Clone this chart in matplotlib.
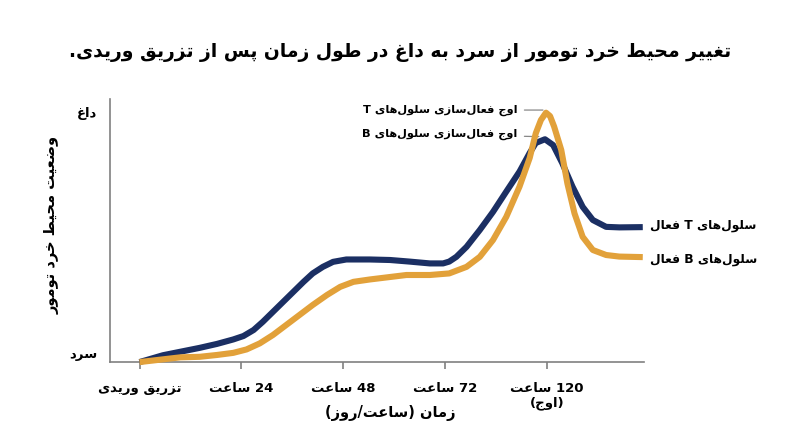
import matplotlib
matplotlib.use("Agg")
import matplotlib.pyplot as plt

# نمودار تغییر محیط خرد تومور - داده‌ها از روی تصویر خوانده شده
title = "تغییر محیط خرد تومور از سرد به داغ در طول زمان پس از تزریق وریدی."
x_label = "زمان (ساعت/روز)"
y_label = "وضعیت محیط خرد تومور"
x_ticks = [0, 1, 2, 3, 4]
x_tick_labels = ["تزریق وریدی", "24 ساعت", "48 ساعت", "72 ساعت", "120 ساعت\n(اوج)"]
y_ticks = [3.4, 95]
y_tick_labels = ["سرد", "داغ"]

# سلول‌های T فعال (آبی)
t_x = [0.0, 0.23, 0.59, 0.76, 0.92, 1.02, 1.12, 1.21, 1.31, 1.41, 1.51, 1.61, 1.70, 1.80,
       1.90, 2.03, 2.26, 2.46, 2.65, 2.85, 2.98, 3.04, 3.11, 3.21, 3.34, 3.47, 3.60, 3.73,
       3.83, 3.89, 3.98, 4.06, 4.15, 4.25, 4.35, 4.45, 4.58, 4.71, 4.94]
t_y = [0.0, 2.6, 5.4, 6.9, 8.6, 9.9, 12.2, 15.3, 19.1, 22.9, 26.7, 30.5, 33.7, 36.2,
       38.1, 39.0, 39.0, 38.8, 38.2, 37.5, 37.5, 38.2, 40.0, 43.8, 50.2, 57.1, 64.8, 72.4,
       79.5, 83.3, 84.7, 82.5, 75.6, 66.7, 59.0, 54.0, 51.4, 51.2, 51.3]

# سلول‌های B فعال (نارنجی)
b_x = [0.0, 0.40, 0.59, 0.76, 0.92, 1.05, 1.18, 1.31, 1.44, 1.57, 1.70, 1.84, 1.97, 2.10,
       2.26, 2.62, 2.85, 3.04, 3.21, 3.34, 3.47, 3.60, 3.73, 3.83, 3.89, 3.94, 3.99, 4.03,
       4.07, 4.14, 4.20, 4.27, 4.35, 4.45, 4.58, 4.71, 4.94]
b_y = [0.0, 1.8, 2.0, 2.7, 3.5, 4.8, 7.1, 10.3, 14.1, 17.9, 21.7, 25.5, 28.6, 30.5,
       31.4, 33.1, 33.1, 33.7, 36.2, 40.0, 46.4, 55.2, 66.7, 77.6, 87.0, 92.0, 94.8, 93.5,
       89.5, 80.6, 67.9, 56.5, 47.6, 42.6, 40.7, 40.1, 39.9]

t_label = "سلول‌های T فعال"
b_label = "سلول‌های B فعال"
t_peak_label = "اوج فعال‌سازی سلول‌های T"
b_peak_label = "اوج فعال‌سازی سلول‌های B"

# شکل حروف فارسی: جدا، پایانی، آغازی، میانی
FORMS = {
    'ا': ('\uFE8D', '\uFE8E', None, None),
    'ب': ('\uFE8F', '\uFE90', '\uFE91', '\uFE92'),
    'پ': ('\uFB56', '\uFB57', '\uFB58', '\uFB59'),
    'ت': ('\uFE95', '\uFE96', '\uFE97', '\uFE98'),
    'ج': ('\uFE9D', '\uFE9E', '\uFE9F', '\uFEA0'),
    'ح': ('\uFEA1', '\uFEA2', '\uFEA3', '\uFEA4'),
    'خ': ('\uFEA5', '\uFEA6', '\uFEA7', '\uFEA8'),
    'د': ('\uFEA9', '\uFEAA', None, None),
    'ر': ('\uFEAD', '\uFEAE', None, None),
    'ز': ('\uFEAF', '\uFEB0', None, None),
    'س': ('\uFEB1', '\uFEB2', '\uFEB3', '\uFEB4'),
    'ض': ('\uFEBD', '\uFEBE', '\uFEBF', '\uFEC0'),
    'ط': ('\uFEC1', '\uFEC2', '\uFEC3', '\uFEC4'),
    'ع': ('\uFEC9', '\uFECA', '\uFECB', '\uFECC'),
    'غ': ('\uFECD', '\uFECE', '\uFECF', '\uFED0'),
    'ف': ('\uFED1', '\uFED2', '\uFED3', '\uFED4'),
    'ق': ('\uFED5', '\uFED6', '\uFED7', '\uFED8'),
    'ل': ('\uFEDD', '\uFEDE', '\uFEDF', '\uFEE0'),
    'م': ('\uFEE1', '\uFEE2', '\uFEE3', '\uFEE4'),
    'ن': ('\uFEE5', '\uFEE6', '\uFEE7', '\uFEE8'),
    'ه': ('\uFEE9', '\uFEEA', '\uFEEB', '\uFEEC'),
    'و': ('\uFEED', '\uFEEE', None, None),
    'ی': ('\uFBFC', '\uFBFD', '\uFBFE', '\uFBFF'),
}
MIRROR = {'(': ')', ')': '('}


def shape(line):
    out = []
    for i, c in enumerate(line):
        if c not in FORMS:
            if c != '\u200c':
                out.append(c)
            continue
        prev = line[i - 1] if i > 0 else ''
        nxt = line[i + 1] if i + 1 < len(line) else ''
        join_prev = prev in FORMS and FORMS[prev][2] is not None
        join_next = FORMS[c][2] is not None and nxt in FORMS
        iso, fin, ini, med = FORMS[c]
        if join_prev and join_next:
            out.append(med)
        elif join_prev:
            out.append(fin)
        elif join_next:
            out.append(ini)
        else:
            out.append(iso)
    return ''.join(out)


def fa(text):
    lines = []
    for line in text.split('\n'):
        s = shape(line)
        runs = []
        for ch in s:
            ltr = ch.isascii() and ch.isalnum()
            if runs and runs[-1][0] == ltr:
                runs[-1][1] += ch
            else:
                runs.append([ltr, ch])
        parts = []
        for ltr, r in reversed(runs):
            parts.append(r if ltr else ''.join(MIRROR.get(c, c) for c in reversed(r)))
        lines.append(''.join(parts))
    return '\n'.join(lines)


plt.rcParams['font.family'] = ['DejaVu Sans']
navy = '#1b2f63'
gold = '#e2a13a'
axis_gray = '#808080'

fig = plt.figure(figsize=(8, 4.47), dpi=100)
ax = fig.add_axes([0.1375, 0.190, 0.668, 0.5885])

ax.plot(t_x, t_y, color=navy, lw=4.4, solid_capstyle='butt', solid_joinstyle='round', clip_on=False, zorder=3)
ax.plot(b_x, b_y, color=gold, lw=4.4, solid_capstyle='butt', solid_joinstyle='round', clip_on=False, zorder=4)

ax.set_xlim(-0.29, 4.956)
ax.set_ylim(0, 100)
for s in ['top', 'right']:
    ax.spines[s].set_visible(False)
for s in ['left', 'bottom']:
    ax.spines[s].set_color(axis_gray)
    ax.spines[s].set_linewidth(1.2)

ax.set_xticks(x_ticks)
ax.set_xticklabels([fa(l) for l in x_tick_labels], fontsize=9.5, fontweight='bold', linespacing=1.15)
ax.set_yticks(y_ticks)
ax.set_yticklabels([fa(l) for l in y_tick_labels], fontsize=9.5, fontweight='bold')
ax.tick_params(axis='x', length=5, width=1.2, color=axis_gray, pad=9)
ax.tick_params(axis='y', length=0, pad=9)

# برچسب اوج‌ها
bi = b_y.index(max(b_y))
ti = t_y.index(max(t_y))
ax.annotate(fa(t_peak_label), xy=(b_x[bi] - 0.03, b_y[bi] + 1.0), xytext=(3.71, b_y[bi] + 1.0),
            ha='right', va='center', fontsize=8.2, fontweight='bold',
            arrowprops=dict(arrowstyle='-', color='#888888', lw=0.9, shrinkA=3, shrinkB=0))
ax.annotate(fa(b_peak_label), xy=(t_x[ti] - 0.06, t_y[ti] + 1.0), xytext=(3.71, t_y[ti] + 1.8),
            ha='right', va='center', fontsize=8.2, fontweight='bold',
            arrowprops=dict(arrowstyle='-', color='#888888', lw=0.9, shrinkA=3, shrinkB=0))

# برچسب خطوط
ax.text(t_x[-1] + 0.07, t_y[-1] + 0.5, fa(t_label), ha='left', va='center', fontsize=8.8,
        fontweight='bold', clip_on=False)
ax.text(b_x[-1] + 0.07, b_y[-1] - 1.0, fa(b_label), ha='left', va='center', fontsize=8.8,
        fontweight='bold', clip_on=False)

fig.text(0.5, 1 - 52 / 447, fa(title), ha='center', va='center', fontsize=13.5, fontweight='bold')
fig.text(390 / 800, 1 - 413 / 447, fa(x_label), ha='center', va='center', fontsize=10.5, fontweight='bold')
fig.text(52 / 800, 1 - 225 / 447, fa(y_label), ha='center', va='center', rotation=90,
         fontsize=10.5, fontweight='bold')

fig.savefig('out.png', dpi=100)
